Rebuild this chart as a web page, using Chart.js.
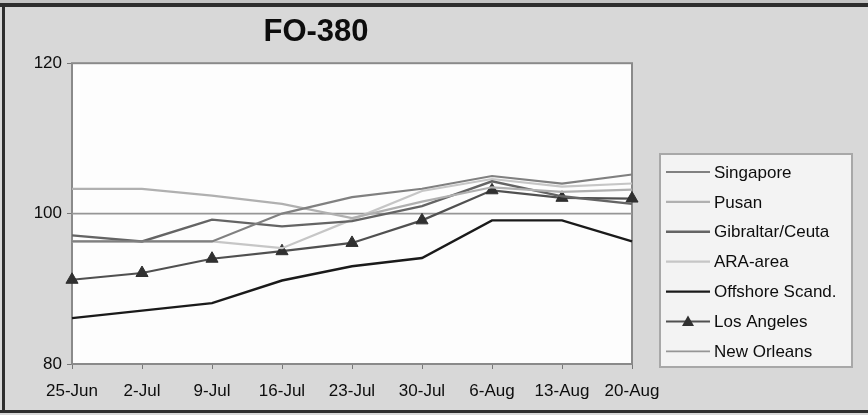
<!DOCTYPE html>
<html>
<head>
<meta charset="utf-8">
<title>FO-380</title>
<script src="https://cdn.jsdelivr.net/npm/chart.js@4.4.1/dist/chart.umd.min.js"></script>
<style>
  html, body { margin: 0; padding: 0; background: #d8d8d8; }
  #wrap { width: 868px; height: 415px; position: relative; }
</style>
</head>
<body>
<div id="wrap"><canvas id="chart" width="868" height="415"></canvas></div>
<script>
const weeks = ['25-Jun', '2-Jul', '9-Jul', '16-Jul', '23-Jul', '30-Jul', '6-Aug', '13-Aug', '20-Aug'];

const singapore  = [96.3, 96.3, 96.3, 100.0, 102.2, 103.3, 105.0, 104.0, 105.2];
const pusan      = [103.3, 103.3, 102.4, 101.3, 99.4, 101.6, 103.5, 102.9, 103.2];
const gibraltar  = [97.1, 96.3, 99.2, 98.3, 99.0, 101.0, 104.3, 102.3, 101.3];
const araArea    = [96.3, 96.3, 96.3, 95.4, 99.2, 103.0, 104.6, 103.6, 104.0];
const offshore   = [86.1, 87.1, 88.1, 91.1, 93.0, 94.1, 99.1, 99.1, 96.3];
const losAngeles = [91.2, 92.1, 94.0, 95.0, 96.1, 99.1, 103.1, 102.1, 102.0];
const newOrleans = [100, 100, 100, 100, 100, 100, 100, 100, 100];

const yTicks = [80, 100, 120];

const FONT = '"Liberation Sans", Arial, Helvetica, sans-serif';

function series(label, data, color, width) {
  return {
    label: label,
    data: data,
    borderColor: color,
    backgroundColor: color,
    borderWidth: width,
    pointRadius: 0,
    tension: 0,
    clip: false
  };
}

const la = series('Los Angeles', losAngeles, '#505050', 2.2);
la.pointStyle = 'triangle';
la.pointRadius = 7;
la.pointBackgroundColor = '#303030';
la.pointBorderColor = '#303030';
la.pointBorderWidth = 1;

const datasets = [
  series('Singapore', singapore, '#808080', 2.2),
  series('Pusan', pusan, '#b0b0b0', 2.2),
  series('Gibraltar/Ceuta', gibraltar, '#646464', 2.4),
  series('ARA-area', araArea, '#c6c6c6', 2.2),
  series('Offshore Scand.', offshore, '#1a1a1a', 2.4),
  la,
  series('New Orleans', newOrleans, '#969696', 1.8)
];

// page background, frame, plot box and the boxed legend
const decor = {
  id: 'decor',
  beforeDraw(chart) {
    const ctx = chart.ctx;
    const a = chart.chartArea;
    ctx.save();
    ctx.fillStyle = '#d8d8d8';
    ctx.fillRect(0, 0, chart.width, chart.height);
    ctx.fillStyle = '#c4c4c4';
    ctx.fillRect(0, 0, chart.width, 3);
    ctx.fillStyle = '#2e2e2e';
    ctx.fillRect(0, 3, chart.width, 4);
    ctx.fillRect(2, 3, 3, chart.height - 5);
    ctx.fillRect(0, 410, chart.width, 3);
    ctx.fillStyle = '#fdfdfd';
    ctx.fillRect(a.left, a.top, a.right - a.left, a.bottom - a.top);
    ctx.restore();
  },
  beforeDatasetsDraw(chart) {
    const ctx = chart.ctx;
    const a = chart.chartArea;
    ctx.save();
    ctx.strokeStyle = '#8a8a8a';
    ctx.lineWidth = 2;
    ctx.strokeRect(a.left, a.top, a.right - a.left, a.bottom - a.top);
    ctx.restore();
  },
  afterDraw(chart) {
    const ctx = chart.ctx;
    const x0 = 660, y0 = 154, w = 192, h = 213;
    ctx.save();
    ctx.fillStyle = '#f3f3f3';
    ctx.fillRect(x0, y0, w, h);
    ctx.strokeStyle = '#a8a8a8';
    ctx.lineWidth = 2;
    ctx.strokeRect(x0, y0, w, h);
    ctx.font = '17px ' + FONT;
    ctx.textBaseline = 'middle';
    chart.data.datasets.forEach(function (ds, i) {
      const y = 172 + i * 29.9;
      ctx.strokeStyle = ds.borderColor;
      ctx.lineWidth = ds.borderWidth;
      ctx.beginPath();
      ctx.moveTo(666, y);
      ctx.lineTo(710, y);
      ctx.stroke();
      if (ds.pointStyle === 'triangle') {
        ctx.fillStyle = ds.pointBackgroundColor;
        ctx.beginPath();
        ctx.moveTo(688, y - 6);
        ctx.lineTo(694, y + 4.5);
        ctx.lineTo(682, y + 4.5);
        ctx.closePath();
        ctx.fill();
      }
      ctx.fillStyle = '#0d0d0d';
      ctx.fillText(ds.label, 714, y + 1);
    });
    ctx.restore();
  }
};

new Chart(document.getElementById('chart'), {
  type: 'line',
  data: { labels: weeks, datasets: datasets },
  options: {
    responsive: false,
    animation: false,
    layout: { padding: { left: 0, right: 236, top: 0, bottom: 0 } },
    plugins: {
      legend: { display: false },
      tooltip: { enabled: false },
      title: {
        display: true,
        text: 'FO-380',
        color: '#0d0d0d',
        font: { family: FONT, size: 31, weight: 'bold' },
        padding: { top: 14, bottom: 12 }
      }
    },
    scales: {
      x: {
        grid: { display: true, drawOnChartArea: false, drawTicks: true, tickLength: 5, color: '#777777' },
        border: { display: false },
        ticks: { color: '#0d0d0d', font: { family: FONT, size: 17 }, padding: 12, maxRotation: 0, autoSkip: false },
        afterFit(scale) { scale.height = 51; }
      },
      y: {
        min: 80,
        max: 120,
        afterBuildTicks(scale) { scale.ticks = yTicks.map(function (v) { return { value: v }; }); },
        grid: { display: true, drawOnChartArea: false, drawTicks: true, tickLength: 5, color: '#777777' },
        border: { display: false },
        ticks: { color: '#0d0d0d', font: { family: FONT, size: 17 }, padding: 5 },
        afterFit(scale) { scale.width = 72; }
      }
    }
  },
  plugins: [decor]
});
</script>
</body>
</html>
